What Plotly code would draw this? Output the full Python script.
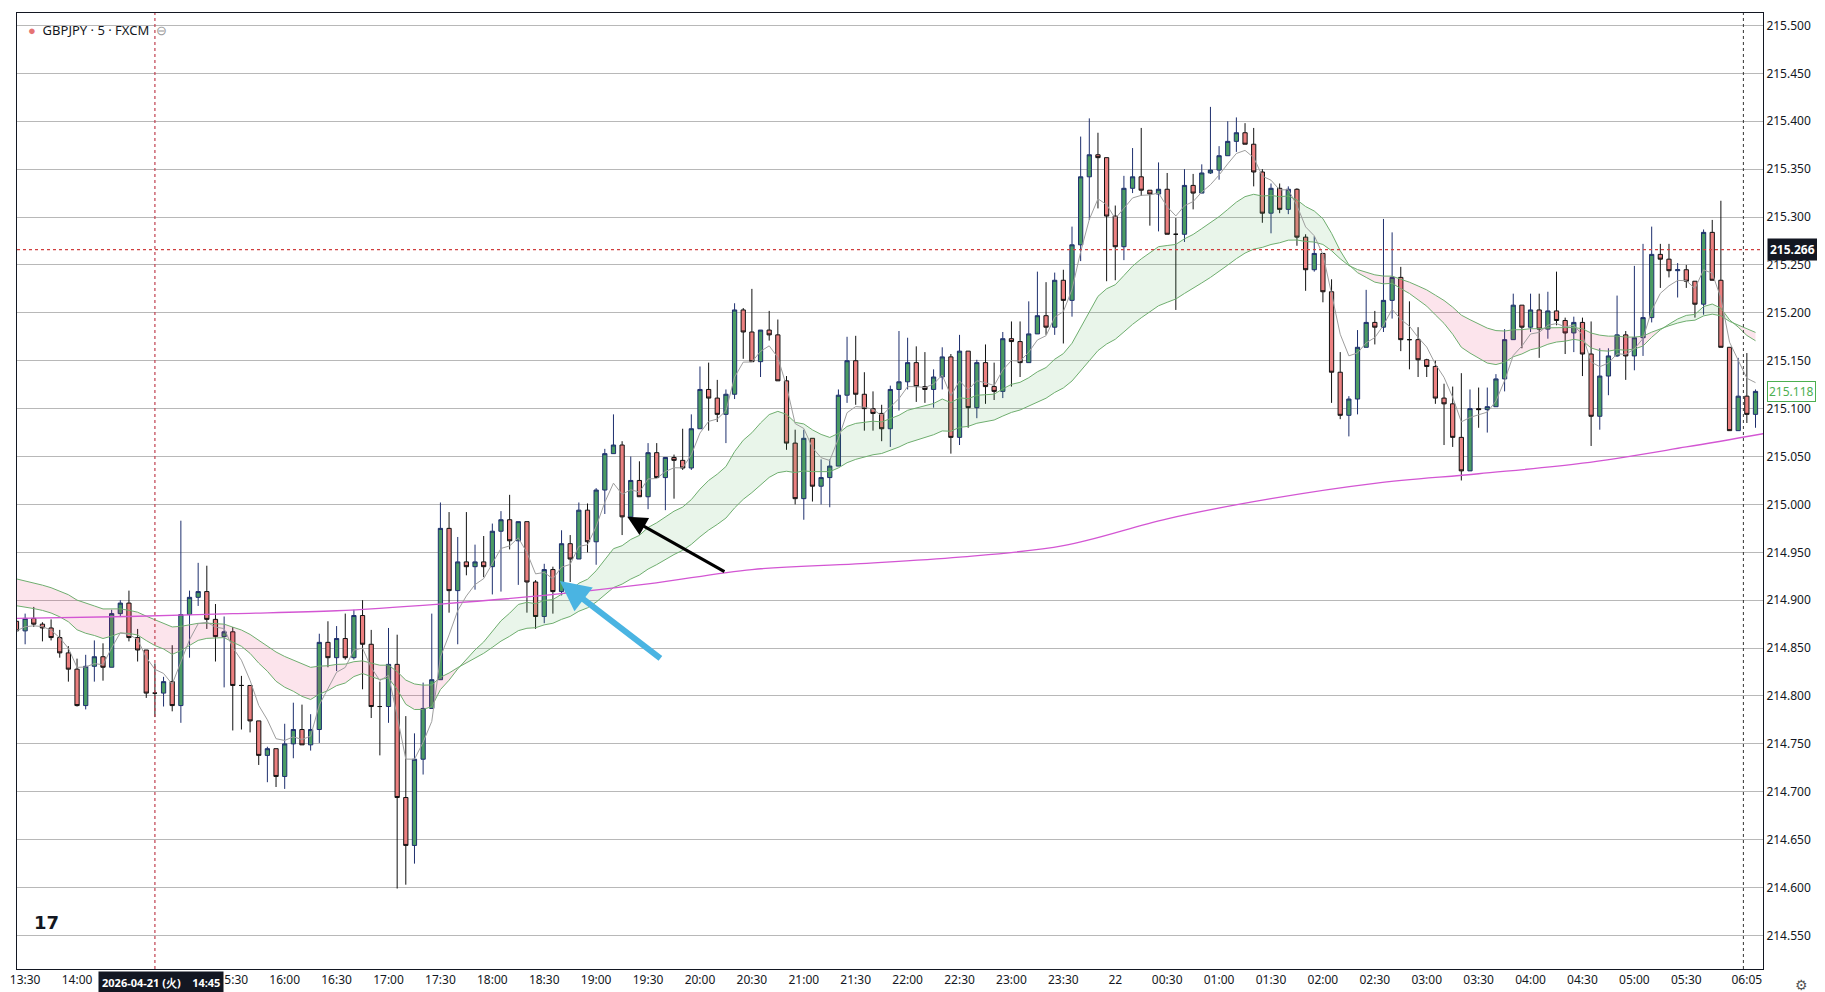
import pandas as pd
import plotly.graph_objects as go

# GBPJPY 5 min candles, 2026-04-21 13:25 -> 2026-04-22 06:10
first_open = 214.878
close = [214.868, 214.881, 214.875, 214.871, 214.861, 214.845, 214.828, 214.790, 214.831, 214.841,
         214.830, 214.886, 214.897, 214.861, 214.848, 214.803, 214.803, 214.815, 214.790, 214.885,
         214.903, 214.909, 214.880, 214.862, 214.867, 214.811, 214.811, 214.774, 214.738, 214.745,
         214.716, 214.750, 214.765, 214.749, 214.765, 214.856, 214.840, 214.860, 214.840, 214.884,
         214.854, 214.789, 214.789, 214.833, 214.694, 214.644, 214.734, 214.787, 214.817, 214.975,
         214.910, 214.940, 214.935, 214.940, 214.935, 214.972, 214.984, 214.962, 214.982, 214.919,
         214.883, 214.932, 214.909, 214.959, 214.943, 214.994, 214.961, 215.015, 215.053, 215.062,
         214.987, 215.025, 215.008, 215.054, 215.028, 215.049, 215.046, 215.038, 215.079, 215.120,
         215.111, 215.094, 215.115, 215.203, 215.180, 215.149, 215.182, 215.177, 215.129, 215.064,
         215.006, 215.069, 215.019, 215.028, 215.040, 215.114, 215.150, 215.115, 215.100, 215.095,
         215.079, 215.120, 215.128, 215.148, 215.123, 215.120, 215.133, 215.154, 215.070, 215.160,
         215.101, 215.148, 215.123, 215.118, 215.173, 215.170, 215.148, 215.178, 215.197, 215.185,
         215.234, 215.213, 215.271, 215.342, 215.365, 215.362, 215.301, 215.269, 215.330, 215.342,
         215.328, 215.324, 215.329, 215.282, 215.282, 215.333, 215.325, 215.346, 215.349, 215.364,
         215.379, 215.388, 215.376, 215.347, 215.304, 215.330, 215.308, 215.329, 215.279, 215.245,
         215.262, 215.222, 215.138, 215.093, 215.110, 215.164, 215.190, 215.185, 215.213, 215.237,
         215.172, 215.172, 215.151, 215.144, 215.111, 215.105, 215.070, 215.035, 215.100, 215.099,
         215.102, 215.131, 215.172, 215.208, 215.185, 215.203, 215.183, 215.202, 215.192, 215.179,
         215.190, 215.157, 215.092, 215.134, 215.155, 215.177, 215.155, 215.174, 215.195, 215.261,
         215.256, 215.244, 215.245, 215.233, 215.209, 215.284, 215.234, 215.164, 215.077, 215.113,
         215.094, 215.118]
high = [214.880, 214.886, 214.893, 214.877, 214.880, 214.869, 214.852, 214.839, 214.843, 214.858,
        214.855, 214.890, 214.900, 214.910, 214.870, 214.848, 214.834, 214.820, 214.853, 214.983,
        214.910, 214.939, 214.936, 214.896, 214.883, 214.872, 214.821, 214.811, 214.774, 214.747,
        214.745, 214.771, 214.793, 214.791, 214.781, 214.865, 214.878, 214.873, 214.886, 214.890,
        214.900, 214.869, 214.815, 214.871, 214.864, 214.779, 214.761, 214.814, 214.886, 215.002,
        214.992, 214.966, 214.992, 214.958, 214.967, 214.980, 214.993, 215.010, 214.982, 214.982,
        214.921, 214.938, 214.935, 214.973, 214.968, 215.002, 215.001, 215.017, 215.058, 215.094,
        215.066, 215.050, 215.045, 215.064, 215.064, 215.049, 215.052, 215.079, 215.094, 215.144,
        215.148, 215.130, 215.120, 215.210, 215.205, 215.225, 215.182, 215.202, 215.193, 215.134,
        215.078, 215.078, 215.069, 215.047, 215.047, 215.120, 215.175, 215.176, 215.138, 215.118,
        215.104, 215.124, 215.181, 215.174, 215.165, 215.159, 215.141, 215.164, 215.157, 215.177,
        215.160, 215.151, 215.167, 215.148, 215.180, 215.191, 215.191, 215.212, 215.243, 215.232,
        215.242, 215.245, 215.290, 215.384, 215.403, 215.388, 215.362, 215.312, 215.343, 215.372,
        215.393, 215.328, 215.357, 215.346, 215.299, 215.350, 215.345, 215.355, 215.415, 215.374,
        215.400, 215.404, 215.398, 215.393, 215.350, 215.335, 215.335, 215.332, 215.330, 215.282,
        215.280, 215.262, 215.235, 215.159, 215.113, 215.182, 215.224, 215.202, 215.298, 215.284,
        215.248, 215.212, 215.185, 215.152, 215.150, 215.126, 215.123, 215.137, 215.120, 215.122,
        215.122, 215.136, 215.183, 215.220, 215.208, 215.220, 215.220, 215.222, 215.243, 215.195,
        215.196, 215.195, 215.191, 215.163, 215.163, 215.218, 215.181, 215.249, 215.272, 215.290,
        215.272, 215.272, 215.252, 215.250, 215.233, 215.287, 215.297, 215.317, 215.164, 215.153,
        215.158, 215.120]
low = [214.858, 214.854, 214.872, 214.857, 214.858, 214.840, 214.815, 214.789, 214.786, 214.815,
       214.816, 214.830, 214.883, 214.857, 214.836, 214.798, 214.778, 214.789, 214.784, 214.772,
       214.840, 214.894, 214.870, 214.836, 214.809, 214.764, 214.765, 214.762, 214.728, 214.710,
       214.705, 214.703, 214.735, 214.749, 214.743, 214.751, 214.830, 214.826, 214.838, 214.838,
       214.807, 214.777, 214.738, 214.772, 214.599, 214.603, 214.625, 214.718, 214.787, 214.817,
       214.887, 214.854, 214.926, 214.911, 214.924, 214.906, 214.909, 214.953, 214.916, 214.887,
       214.870, 214.876, 214.886, 214.905, 214.919, 214.943, 214.950, 214.937, 214.990, 215.053,
       214.968, 214.987, 215.008, 214.995, 215.028, 214.994, 215.006, 215.036, 215.036, 215.079,
       215.077, 215.086, 215.064, 215.110, 215.152, 215.149, 215.133, 215.171, 215.129, 215.057,
       215.000, 214.984, 215.003, 215.000, 214.997, 215.040, 215.106, 215.104, 215.077, 215.077,
       215.066, 215.060, 215.098, 215.120, 215.107, 215.106, 215.101, 215.120, 215.053, 215.062,
       215.080, 215.090, 215.105, 215.109, 215.111, 215.123, 215.133, 215.148, 215.178, 215.177,
       215.177, 215.168, 215.196, 215.254, 215.297, 215.309, 215.233, 215.234, 215.255, 215.325,
       215.322, 215.291, 215.285, 215.282, 215.203, 215.274, 215.308, 215.325, 215.345, 215.339,
       215.364, 215.368, 215.376, 215.332, 215.294, 215.283, 215.304, 215.303, 215.270, 215.223,
       215.243, 215.211, 215.106, 215.089, 215.071, 215.094, 215.164, 215.167, 215.180, 215.194,
       215.160, 215.141, 215.133, 215.133, 215.105, 215.062, 215.060, 215.025, 215.035, 215.080,
       215.075, 215.102, 215.118, 215.172, 215.163, 215.180, 215.153, 215.173, 215.187, 215.157,
       215.159, 215.134, 215.061, 215.078, 215.114, 215.154, 215.130, 215.140, 215.155, 215.190,
       215.226, 215.237, 215.216, 215.226, 215.195, 215.198, 215.234, 215.164, 215.077, 215.077,
       215.085, 215.080]

# long moving average (magenta), read at a few points
ma_long_time = ["2026-04-21 13:25", "2026-04-21 14:30", "2026-04-21 15:30", "2026-04-21 16:30",
                "2026-04-21 17:30", "2026-04-21 18:30", "2026-04-21 19:30", "2026-04-21 20:30",
                "2026-04-21 21:30", "2026-04-21 22:30", "2026-04-21 23:30", "2026-04-22 00:30",
                "2026-04-22 01:30", "2026-04-22 02:30", "2026-04-22 03:30", "2026-04-22 04:30",
                "2026-04-22 05:30", "2026-04-22 06:15"]
ma_long = [214.881, 214.883, 214.886, 214.889, 214.896, 214.905, 214.917, 214.932, 214.938, 214.945,
           214.957, 214.985, 215.006, 215.022, 215.032, 215.043, 215.060, 215.074]

# ema seeds (values of the bands at the left edge)
fast_seed, slow_seed = 214.897, 214.925
fast_len, slow_len, short_len = 20, 40, 5

# 14:30 and 15:00 sit under the crosshair date box, as in the reference
hidden_ticks = ["14:30", "15:00"]
tick_vals = [t for t in pd.date_range("2026-04-21 13:30", "2026-04-22 05:30", freq="30min")
             if t.strftime("%H:%M") not in hidden_ticks]
tick_text = [("22" if t.hour == 0 and t.minute == 0 else t.strftime("%H:%M")) for t in tick_vals]
tick_vals.append(pd.Timestamp("2026-04-22 06:05"))
tick_text.append("06:05")

last_price = 215.118
line_price = 215.266

times = pd.date_range("2026-04-21 13:25", periods=len(close), freq="5min")
opens = [first_open] + close[:-1]


def ema(values, n, seed):
    a = 2 / (n + 1)
    out, v = [], seed
    for x in values:
        v = v + a * (x - v)
        out.append(v)
    return out


fast = ema(close, fast_len, fast_seed)
slow = ema(close, slow_len, slow_seed)
short = ema(close, short_len, close[0])

fig = go.Figure()

# cloud between the two emas, green when fast above slow, pink otherwise
i = 0
n = len(close)
while i < n:
    up = fast[i] >= slow[i]
    j = i
    while j + 1 < n and (fast[j + 1] >= slow[j + 1]) == up:
        j += 1
    k = min(j + 1, n - 1)
    fig.add_trace(go.Scatter(x=times[i:k + 1], y=slow[i:k + 1], mode="lines",
                             line=dict(width=0), hoverinfo="skip", showlegend=False))
    fig.add_trace(go.Scatter(x=times[i:k + 1], y=fast[i:k + 1], mode="lines", fill="tonexty",
                             fillcolor="rgba(76,175,80,0.12)" if up else "rgba(233,30,99,0.12)",
                             line=dict(width=0), hoverinfo="skip", showlegend=False))
    i = j + 1

band_col = "#6fae6f"
fig.add_trace(go.Scatter(x=times, y=slow, mode="lines", line=dict(color=band_col, width=1), showlegend=False))
fig.add_trace(go.Scatter(x=times, y=fast, mode="lines", line=dict(color=band_col, width=1), showlegend=False))
fig.add_trace(go.Scatter(x=pd.to_datetime(ma_long_time), y=ma_long, mode="lines",
                         line=dict(color="#d356d3", width=1.3, shape="spline"), showlegend=False))
fig.add_trace(go.Scatter(x=times, y=short, mode="lines", line=dict(color="#9e9e9e", width=1), showlegend=False))

fig.add_trace(go.Candlestick(
    x=times, open=opens, high=high, low=low, close=close,
    increasing=dict(line=dict(color="#1e2f6e", width=1), fillcolor="#4a9b63"),
    decreasing=dict(line=dict(color="#111111", width=1), fillcolor="#ec8080"),
    whiskerwidth=0, showlegend=False))

# price line and markers
fig.add_hline(y=line_price, line=dict(color="#d04040", width=1.2, dash="dot"))
fig.add_vline(x=pd.Timestamp("2026-04-21 14:45"), line=dict(color="#c04050", width=1.2, dash="dot"))
fig.add_vline(x=pd.Timestamp("2026-04-22 06:03"), line=dict(color="#333333", width=1, dash="dot"))

# arrows
fig.add_annotation(x=pd.Timestamp("2026-04-21 19:18"), y=214.987, ax=pd.Timestamp("2026-04-21 20:15"), ay=214.929,
                   xref="x", yref="y", axref="x", ayref="y", showarrow=True, arrowhead=2, arrowsize=1.3,
                   arrowwidth=3, arrowcolor="#000000", text="")
fig.add_annotation(x=pd.Timestamp("2026-04-21 18:39"), y=214.920, ax=pd.Timestamp("2026-04-21 19:38"), ay=214.838,
                   xref="x", yref="y", axref="x", ayref="y", showarrow=True, arrowhead=2, arrowsize=1,
                   arrowwidth=6, arrowcolor="#4ab4e2", text="")

# axis labels
fig.add_annotation(x=1.0, y=line_price, xref="paper", yref="y", xanchor="left", showarrow=False,
                   text="<b>%.3f</b>" % line_price, bgcolor="#131722", font=dict(color="white", size=12),
                   borderpad=2, xshift=4)
fig.add_annotation(x=1.0, y=last_price, xref="paper", yref="y", xanchor="left", showarrow=False,
                   text="%.3f" % last_price, bgcolor="white", bordercolor="#4caf50", borderwidth=1,
                   font=dict(color="#4caf50", size=12), borderpad=1, xshift=4)
fig.add_annotation(x=pd.Timestamp("2026-04-21 14:45"), y=0, xref="x", yref="paper", yanchor="top",
                   showarrow=False, text="<b>2026-04-21 (火)    14:45</b>", bgcolor="#131722",
                   font=dict(color="white", size=11), borderpad=3, yshift=-2, xshift=6)
fig.add_annotation(x=0.002, y=1.0, xref="paper", yref="paper", xanchor="left", yanchor="top", showarrow=False,
                   text="<span style='color:#e57373'>●</span>  GBPJPY · 5 · FXCM  <span style='color:#999'>⊖</span>",
                   font=dict(color="#131722", size=13), yshift=-6, xshift=6)
fig.add_annotation(x=0.005, y=0.0, xref="paper", yref="paper", xanchor="left", yanchor="bottom", showarrow=False,
                   text="<b>17</b>", font=dict(color="#131722", size=18, family="DejaVu Sans"), yshift=34, xshift=6)
fig.add_annotation(x=1.0, y=0.0, xref="paper", yref="paper", xanchor="left", yanchor="top", showarrow=False,
                   text="⚙", font=dict(color="#555", size=14), xshift=30, yshift=-4)

fig.update_layout(
    width=1825, height=992,
    margin=dict(l=9, r=70, t=5, b=31),
    paper_bgcolor="white", plot_bgcolor="white",
    font=dict(family="Noto Sans", size=12, color="#131722"),
    showlegend=False,
    xaxis=dict(range=[pd.Timestamp("2026-04-21 13:25:18"), pd.Timestamp("2026-04-22 06:14:20")],
               rangeslider=dict(visible=False), showgrid=False, tickvals=tick_vals, ticktext=tick_text,
               tickangle=0, automargin=False,
               ticks="", showline=True, linecolor="#131722", linewidth=1, mirror=True, tickfont=dict(size=12)),
    yaxis=dict(side="right", range=[214.515, 215.513], dtick=0.05, tick0=214.5, tickformat=".3f",
               showgrid=True, gridcolor="#b8b8b8", gridwidth=1, ticks="", showline=True, automargin=False,
               linecolor="#131722", linewidth=1, mirror=True, tickfont=dict(size=12), zeroline=False),
)

fig.write_html("out.html")
